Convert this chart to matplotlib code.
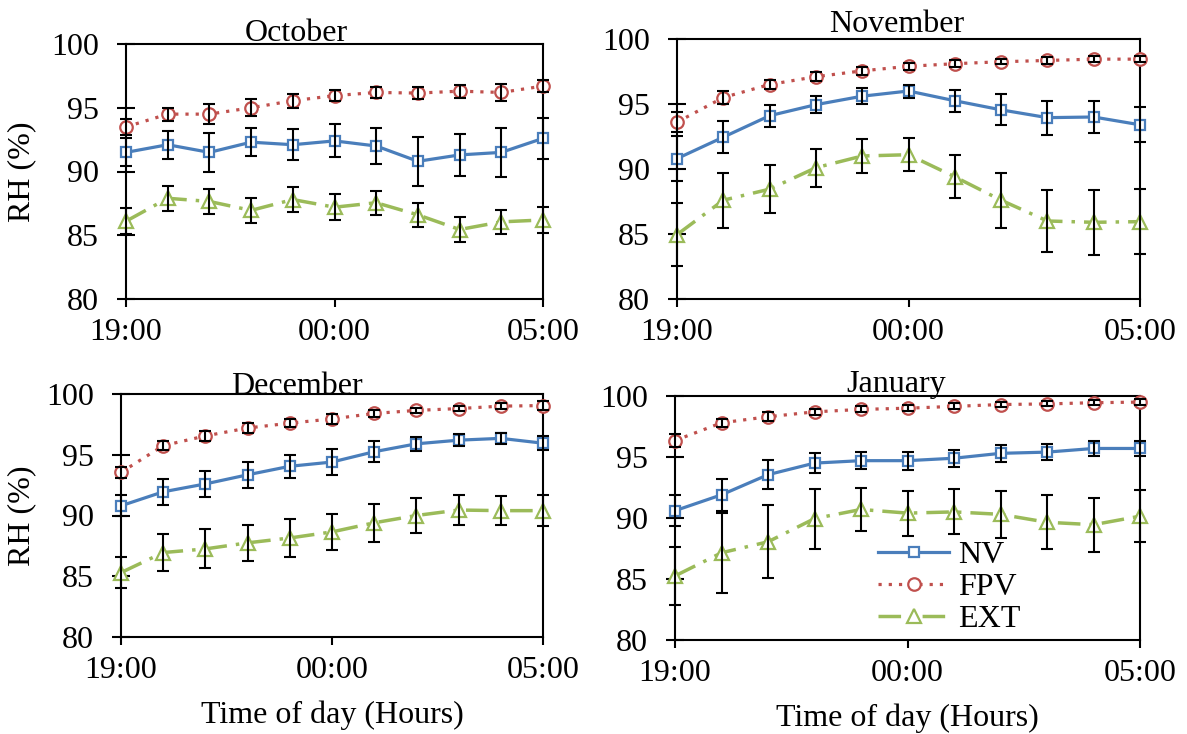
import matplotlib
matplotlib.use("Agg")
import matplotlib.pyplot as plt

plt.rcParams["font.family"] = ["Liberation Serif", "DejaVu Serif"]
plt.rcParams["font.size"] = 23

hours = list(range(11))
tick_pos = [0, 5, 10]
tick_labels = ["19:00", "00:00", "05:00"]
series_names = ["NV", "FPV", "EXT"]

# hourly mean RH (%) and error for each month, 19:00 .. 05:00
oct_nv = [91.5, 92.1, 91.5, 92.3, 92.1, 92.4, 92.0, 90.8, 91.3, 91.5, 92.6]
oct_nv_err = [1.1, 1.1, 1.5, 1.1, 1.2, 1.3, 1.4, 1.9, 1.65, 1.9, 1.6]
oct_fpv = [93.5, 94.5, 94.5, 95.0, 95.55, 95.95, 96.2, 96.15, 96.3, 96.2, 96.7]
oct_fpv_err = [0.6, 0.5, 0.8, 0.65, 0.55, 0.45, 0.45, 0.5, 0.5, 0.7, 0.45]
oct_ext = [86.1, 87.9, 87.65, 86.95, 87.8, 87.2, 87.55, 86.6, 85.45, 86.05, 86.2]
oct_ext_err = [1.0, 1.0, 1.0, 1.0, 1.0, 1.0, 0.95, 0.95, 1.0, 0.95, 1.0]

nov_nv = [90.8, 92.45, 94.1, 94.95, 95.6, 96.0, 95.25, 94.55, 93.95, 94.0, 93.4]
nov_nv_err = [1.75, 1.25, 0.85, 0.65, 0.6, 0.5, 0.85, 1.2, 1.3, 1.2, 1.35]
nov_fpv = [93.6, 95.5, 96.5, 97.1, 97.55, 97.9, 98.1, 98.25, 98.35, 98.45, 98.45]
nov_fpv_err = [0.75, 0.5, 0.35, 0.35, 0.3, 0.25, 0.25, 0.2, 0.25, 0.25, 0.25]
nov_ext = [84.95, 87.6, 88.45, 90.1, 91.0, 91.1, 89.4, 87.6, 86.0, 85.9, 85.95]
nov_ext_err = [2.4, 2.1, 1.85, 1.45, 1.3, 1.25, 1.65, 2.1, 2.35, 2.5, 2.5]

dec_nv = [90.8, 91.95, 92.6, 93.35, 94.05, 94.4, 95.25, 95.9, 96.2, 96.35, 95.95]
dec_nv_err = [0.85, 1.05, 1.05, 1.05, 0.95, 1.1, 0.85, 0.6, 0.5, 0.45, 0.6]
dec_fpv = [93.55, 95.75, 96.55, 97.2, 97.6, 97.95, 98.4, 98.65, 98.8, 99.0, 99.05]
dec_fpv_err = [0.45, 0.4, 0.4, 0.45, 0.35, 0.4, 0.3, 0.2, 0.2, 0.25, 0.35]
dec_ext = [85.3, 86.95, 87.25, 87.75, 88.15, 88.65, 89.4, 90.0, 90.45, 90.4, 90.4]
dec_ext_err = [1.3, 1.5, 1.6, 1.5, 1.55, 1.45, 1.55, 1.45, 1.2, 1.2, 1.25]

jan_nv = [90.6, 91.9, 93.55, 94.5, 94.7, 94.7, 94.9, 95.3, 95.4, 95.7, 95.7]
jan_nv_err = [1.25, 1.3, 1.2, 0.8, 0.7, 0.75, 0.7, 0.7, 0.65, 0.65, 0.65]
jan_fpv = [96.35, 97.8, 98.3, 98.7, 98.9, 99.0, 99.15, 99.3, 99.35, 99.45, 99.5]
jan_fpv_err = [0.5, 0.3, 0.35, 0.25, 0.25, 0.25, 0.25, 0.2, 0.2, 0.2, 0.25]
jan_ext = [85.25, 87.15, 88.05, 89.95, 90.7, 90.4, 90.5, 90.3, 89.65, 89.45, 90.15]
jan_ext_err = [2.35, 3.3, 3.0, 2.45, 1.8, 1.85, 1.85, 1.95, 2.2, 2.2, 2.15]

panels = [
    ("October", [oct_nv, oct_fpv, oct_ext], [oct_nv_err, oct_fpv_err, oct_ext_err]),
    ("November", [nov_nv, nov_fpv, nov_ext], [nov_nv_err, nov_fpv_err, nov_ext_err]),
    ("December", [dec_nv, dec_fpv, dec_ext], [dec_nv_err, dec_fpv_err, dec_ext_err]),
    ("January", [jan_nv, jan_fpv, jan_ext], [jan_nv_err, jan_fpv_err, jan_ext_err]),
]

styles = [
    dict(color="#4a7ebb", linestyle="-", lw=2.3, marker="s", ms=7),
    dict(color="#c0504d", linestyle=(0, (1, 2.2)), lw=2.3, marker="o", ms=9),
    dict(color="#9bbb59", linestyle=(0, (6.5, 2.6, 1, 2.6)), lw=2.5, marker="^", ms=9.5),
]

# axes boxes in pixels: left, top, right, bottom
W, H = 1187, 734
boxes = [(126, 44, 543, 299), (677, 39, 1140, 299),
         (121, 394, 543, 637), (675, 396, 1140, 640)]
title_pos = [(0.408, 1.01), (0.475, 1.027), (0.417, 1.0), (0.475, 1.016)]

fig = plt.figure(figsize=(W / 100, H / 100), dpi=100)

for i, (name, values, errors) in enumerate(panels):
    l, t, r, b = boxes[i]
    ax = fig.add_axes([l / W, (H - b) / H, (r - l) / W, (b - t) / H])

    for label, y, err, st in zip(series_names, values, errors, styles):
        ax.plot(hours, y, color=st["color"], linestyle=st["linestyle"], lw=st["lw"],
                marker=st["marker"], ms=st["ms"], mfc="white", mec=st["color"],
                mew=1.6, label=label, clip_on=False, zorder=3)
        ax.errorbar(hours, y, yerr=err, fmt="none", ecolor="black", elinewidth=1.5,
                    capsize=4.5, capthick=1.5, clip_on=False, zorder=4)

    ax.set_xlim(0, 10)
    ax.set_ylim(80, 100)
    ax.set_yticks([80, 85, 90, 95, 100])
    ax.set_xticks(tick_pos)
    ax.set_xticklabels(tick_labels)
    ax.tick_params(axis="y", direction="inout", length=13, width=1.5, pad=13)
    ax.tick_params(axis="x", direction="out", length=6, width=1.5, pad=8)
    for sp in ax.spines.values():
        sp.set_linewidth(1.5)

    tx, ty = title_pos[i]
    ax.text(tx, ty, name, transform=ax.transAxes, ha="center", va="baseline")

    if i % 2 == 0:
        ax.set_ylabel("RH (%)")
        ax.yaxis.set_label_coords((36 - l) / (r - l), 0.5)
    if i >= 2:
        ax.set_xlabel("Time of day (Hours)", labelpad=11)
    if i == 3:
        ax.legend(loc="upper left", bbox_to_anchor=(0.41, 0.46), frameon=False,
                  handlelength=2.2, handletextpad=0.3, labelspacing=0.08,
                  borderaxespad=0)

fig.savefig("out.png", dpi=100)
